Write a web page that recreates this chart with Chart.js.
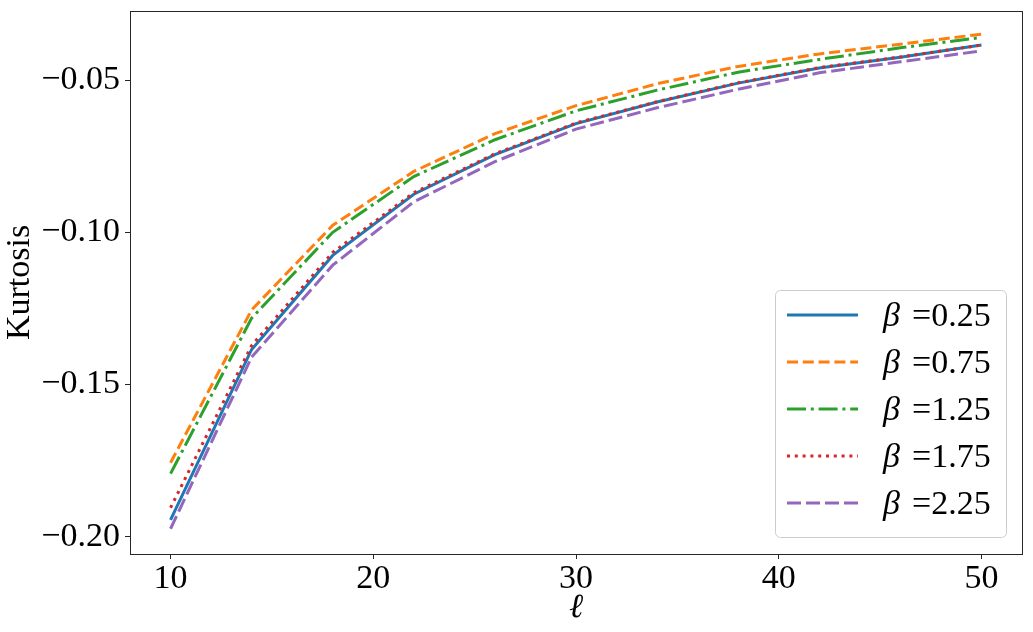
<!DOCTYPE html>
<html>
<head>
<meta charset="utf-8">
<script src="https://cdn.jsdelivr.net/npm/chart.js@4.4.1/dist/chart.umd.min.js"></script>
<style>
html, body { margin: 0; padding: 0; background: #fff; }
#wrap { width: 1033px; height: 632px; }
</style>
</head>
<body>
<div id="wrap"><canvas id="kurtosisChart"></canvas></div>
<script>
// values
const ellValues = [10, 14, 18, 22, 26, 30, 34, 38, 42, 46, 50];
const betaLabels = ['0.25', '0.75', '1.25', '1.75', '2.25'];
const kurtBeta025 = [-0.1945, -0.1385, -0.1076, -0.0875, -0.0745, -0.0643, -0.0572, -0.0510, -0.0460, -0.0425, -0.0385];
const kurtBeta075 = [-0.1757, -0.1255, -0.0977, -0.0800, -0.0676, -0.0584, -0.0512, -0.0455, -0.0414, -0.0382, -0.0349];
const kurtBeta125 = [-0.1793, -0.1282, -0.1000, -0.0817, -0.0696, -0.0601, -0.0533, -0.0474, -0.0432, -0.0394, -0.0360];
const kurtBeta175 = [-0.1905, -0.1372, -0.1066, -0.0870, -0.0742, -0.0641, -0.0571, -0.0509, -0.0459, -0.0424, -0.0385];
const kurtBeta225 = [-0.1974, -0.1410, -0.1108, -0.0900, -0.0768, -0.0661, -0.0591, -0.0530, -0.0476, -0.0440, -0.0404];
const xTicks = [10, 20, 30, 40, 50];
const yTicks = [-0.20, -0.15, -0.10, -0.05];

const allSeries = [kurtBeta025, kurtBeta075, kurtBeta125, kurtBeta175, kurtBeta225];
const seriesColors = ['#1f77b4', '#ff7f0e', '#2ca02c', '#d62728', '#9467bd'];
const seriesDashes = [[], [11, 4.8], [19, 4.8, 3, 4.8], [3, 4.8], [14, 5]];
const serif = '"Liberation Serif", "DejaVu Serif", serif';

const frame = {
    id: 'frame',
    afterDatasetsDraw(chart) {
        const a = chart.chartArea;
        const ctx = chart.ctx;
        ctx.save();
        ctx.strokeStyle = '#262626';
        ctx.lineWidth = 1;
        ctx.strokeRect(Math.round(a.left) + 0.5, Math.round(a.top) + 0.5,
            Math.round(a.right - a.left), Math.round(a.bottom - a.top));
        ctx.restore();
    }
};

const insideLegend = {
    id: 'insideLegend',
    afterDraw(chart) {
        const ctx = chart.ctx;
        const a = chart.chartArea;
        const boxW = 231, boxH = 247;
        const x0 = a.right - 16 - boxW;
        const y0 = a.bottom - 17 - boxH;
        ctx.save();
        ctx.beginPath();
        ctx.roundRect(x0 + 0.5, y0 + 0.5, boxW, boxH, 5);
        ctx.fillStyle = 'rgba(255,255,255,0.8)';
        ctx.fill();
        ctx.strokeStyle = '#cccccc';
        ctx.lineWidth = 1;
        ctx.stroke();
        chart.data.datasets.forEach(function(ds, i) {
            const cy = y0 + 25 + i * 47;
            ctx.beginPath();
            ctx.setLineDash(ds.borderDash);
            ctx.strokeStyle = ds.borderColor;
            ctx.lineWidth = 3;
            ctx.moveTo(x0 + 12, cy);
            ctx.lineTo(x0 + 83, cy);
            ctx.stroke();
            ctx.setLineDash([]);
            ctx.fillStyle = '#000';
            ctx.textBaseline = 'middle';
            ctx.font = 'italic 34px ' + serif;
            ctx.fillText('β', x0 + 108, cy + 2);
            ctx.font = '34px ' + serif;
            ctx.fillText('=' + betaLabels[i], x0 + 137, cy + 2);
        });
        ctx.restore();
    }
};

document.addEventListener('DOMContentLoaded', function() {
    const ctx = document.getElementById('kurtosisChart').getContext('2d');

    new Chart(ctx, {
        type: 'line',
        data: {
            datasets: allSeries.map(function(vals, i) {
                return {
                    label: 'β =' + betaLabels[i],
                    data: vals.map(function(v, j) { return { x: ellValues[j], y: v }; }),
                    borderColor: seriesColors[i],
                    backgroundColor: seriesColors[i],
                    borderDash: seriesDashes[i],
                    borderWidth: 3,
                    borderCapStyle: 'butt',
                    pointRadius: 0,
                    tension: 0,
                    fill: false,
                    order: allSeries.length - i
                };
            })
        },
        options: {
            responsive: true,
            maintainAspectRatio: false,
            animation: false,
            layout: {
                padding: { left: 0, right: 11, top: 11, bottom: 0 }
            },
            plugins: {
                legend: { display: false },
                tooltip: { enabled: false }
            },
            scales: {
                x: {
                    type: 'linear',
                    min: 8,
                    max: 52,
                    afterBuildTicks: function(scale) {
                        scale.ticks = xTicks.map(function(v) { return { value: v }; });
                    },
                    afterFit: function(scale) {
                        scale.height = 78;
                        scale.paddingLeft = 0;
                        scale.paddingRight = 0;
                    },
                    grid: { drawOnChartArea: false, tickLength: 5, color: '#262626' },
                    border: { display: false },
                    ticks: {
                        color: '#000',
                        padding: 0,
                        maxRotation: 0,
                        font: { family: serif, size: 34 }
                    },
                    title: {
                        display: true,
                        text: 'ℓ',
                        color: '#000',
                        padding: { top: 0, bottom: 4 },
                        font: { family: serif, size: 34, style: 'italic' }
                    }
                },
                y: {
                    min: -0.2057,
                    max: -0.0273,
                    afterBuildTicks: function(scale) {
                        scale.ticks = yTicks.map(function(v) { return { value: v }; });
                    },
                    afterFit: function(scale) {
                        scale.width = 130;
                        scale.paddingTop = 0;
                        scale.paddingBottom = 0;
                    },
                    grid: { drawOnChartArea: false, tickLength: 5, color: '#262626' },
                    border: { display: false },
                    ticks: {
                        color: '#000',
                        padding: 5,
                        font: { family: serif, size: 34 },
                        callback: function(v) { return '−' + Math.abs(v).toFixed(2); }
                    },
                    title: {
                        display: true,
                        text: 'Kurtosis',
                        color: '#000',
                        padding: { top: 0, bottom: 0 },
                        font: { family: serif, size: 34 }
                    }
                }
            }
        },
        plugins: [frame, insideLegend]
    });
});
</script>
</body>
</html>
